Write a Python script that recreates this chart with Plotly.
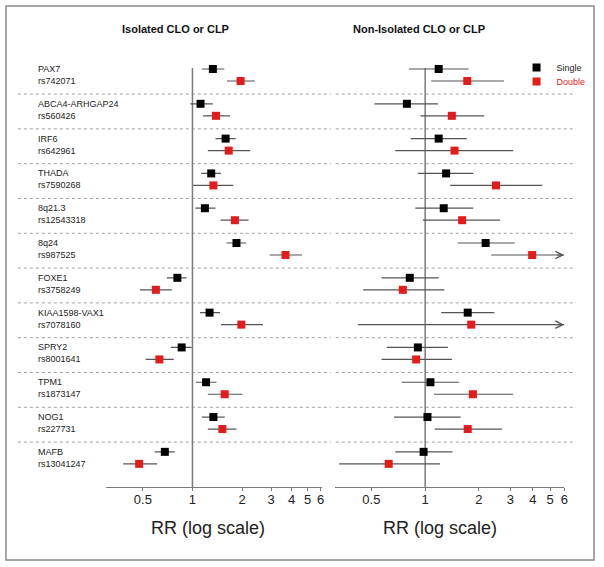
import math
import plotly.graph_objects as go

# ---------------- data ----------------
genes = ["PAX7", "ABCA4-ARHGAP24", "IRF6", "THADA", "8q21.3", "8q24", "FOXE1",
         "KIAA1598-VAX1", "SPRY2", "TPM1", "NOG1", "MAFB"]
snps = ["rs742071", "rs560426", "rs642961", "rs7590268", "rs12543318", "rs987525",
        "rs3758249", "rs7078160", "rs8001641", "rs1873147", "rs227731", "rs13041247"]

iso_single_rr = [1.33, 1.12, 1.59, 1.30, 1.19, 1.85, 0.81, 1.27, 0.86, 1.21, 1.34, 0.68]
iso_single_lo = [1.14, 0.97, 1.38, 1.13, 1.04, 1.61, 0.70, 1.11, 0.74, 1.05, 1.14, 0.59]
iso_single_hi = [1.56, 1.33, 1.83, 1.49, 1.38, 2.12, 0.92, 1.47, 0.99, 1.40, 1.57, 0.78]

iso_double_rr = [1.96, 1.39, 1.66, 1.34, 1.81, 3.67, 0.60, 1.98, 0.63, 1.57, 1.52, 0.475]
iso_double_lo = [1.62, 1.16, 1.24, 1.01, 1.48, 2.94, 0.48, 1.49, 0.52, 1.24, 1.24, 0.38]
iso_double_hi = [2.39, 1.69, 2.24, 1.77, 2.19, 4.62, 0.75, 2.68, 0.77, 2.01, 1.85, 0.61]

non_single_rr = [1.19, 0.79, 1.19, 1.31, 1.27, 2.18, 0.82, 1.73, 0.91, 1.07, 1.03, 0.98]
non_single_lo = [0.81, 0.52, 0.83, 0.91, 0.88, 1.52, 0.57, 1.23, 0.61, 0.74, 0.67, 0.68]
non_single_hi = [1.75, 1.18, 1.71, 1.86, 1.86, 3.17, 1.19, 2.44, 1.34, 1.55, 1.58, 1.42]

non_double_rr = [1.72, 1.41, 1.46, 2.49, 1.61, 3.97, 0.75, 1.81, 0.89, 1.85, 1.73, 0.625]
non_double_lo = [1.08, 0.94, 0.68, 1.38, 0.97, 2.34, 0.45, 0.42, 0.57, 1.12, 1.13, 0.33]
non_double_hi = [2.76, 2.14, 3.11, 4.52, 2.62, 7.50, 1.28, 7.50, 1.41, 3.11, 2.69, 1.21]

tick_vals = [0.5, 1, 2, 3, 4, 5, 6]
tick_text = ["0.5", "1", "2", "3", "4", "5", "6"]
panel_titles = ["Isolated CLO or CLP", "Non-Isolated CLO or CLP"]
x_title = "RR (log scale)"

# ---------------- styling ----------------
W, H = 604, 567
FONT = "Arial, Liberation Sans, sans-serif"
BLACK = "#000000"
RED = "#e31b1b"
CI_COLOR = "#555555"
AX_COLOR = "#7a7a7a"
LEFT_RANGE = (0.30, 6.1)
RIGHT_RANGE = (0.312, 6.0)
DOUBLE_OFFSET = 0.345
Y_RANGE = (12.01, -0.833)

def px(x):
    return x / W

def py(y):
    return 1 - y / H

rows = list(range(len(genes)))
rows_d = [r + DOUBLE_OFFSET for r in rows]

fig = go.Figure()

def ci_trace(lo, hi, ys, xaxis, xmax):
    xs, yy = [], []
    for a, b, y in zip(lo, hi, ys):
        xs += [a, min(b, xmax), None]
        yy += [y, y, None]
    return go.Scatter(x=xs, y=yy, mode="lines", xaxis=xaxis, yaxis="y",
                      line=dict(color=CI_COLOR, width=1.2), hoverinfo="skip",
                      showlegend=False, cliponaxis=False)

def pt_trace(rr, ys, xaxis, color, name, show, legend="legend"):
    return go.Scatter(x=rr, y=ys, mode="markers", xaxis=xaxis, yaxis="y",
                      marker=dict(symbol="square", size=8, color=color),
                      name=name, showlegend=show, legend=legend, cliponaxis=False)

# left panel
fig.add_trace(ci_trace(iso_single_lo, iso_single_hi, rows, "x", LEFT_RANGE[1]))
fig.add_trace(ci_trace(iso_double_lo, iso_double_hi, rows_d, "x", LEFT_RANGE[1]))
fig.add_trace(pt_trace(iso_single_rr, rows, "x", BLACK, "Single", False))
fig.add_trace(pt_trace(iso_double_rr, rows_d, "x", RED, "Double", False))
# right panel
fig.add_trace(ci_trace(non_single_lo, non_single_hi, rows, "x2", RIGHT_RANGE[1]))
fig.add_trace(ci_trace(non_double_lo, non_double_hi, rows_d, "x2", RIGHT_RANGE[1]))
fig.add_trace(pt_trace(non_single_rr, rows, "x2", BLACK, "Single", True, "legend"))
fig.add_trace(pt_trace(non_double_rr, rows_d, "x2", RED,
                       "<span style='color:%s'>Double</span>" % RED, True, "legend2"))

shapes = []
annotations = []

# arrows for CIs beyond axis
for series_hi, ys in ((non_double_hi, rows_d), (non_single_hi, rows)):
    for b, y in zip(series_hi, ys):
        if b > RIGHT_RANGE[1]:
            annotations.append(dict(
                x=math.log10(RIGHT_RANGE[1]), y=y, xref="x2", yref="y",
                ax=math.log10(RIGHT_RANGE[1]) - 0.05, ay=y, axref="x2", ayref="y",
                showarrow=True, arrowhead=5, arrowsize=1.3, arrowwidth=1.1,
                arrowcolor=CI_COLOR, text=""))

# reference lines at RR = 1
for xr in ("x", "x2"):
    shapes.append(dict(type="line", xref=xr, yref="y", x0=1, x1=1,
                       y0=-0.03, y1=Y_RANGE[0],
                       line=dict(color=AX_COLOR, width=1.5), layer="below"))

# dotted separators
for r in rows[:-1]:
    ysep = r + 0.72
    shapes.append(dict(type="line", xref="paper", yref="y", x0=px(18), x1=px(333),
                       y0=ysep, y1=ysep, line=dict(color="#a0a0a0", width=1, dash="dot"),
                       layer="below"))
    shapes.append(dict(type="line", xref="paper", yref="y", x0=px(338), x1=px(580),
                       y0=ysep, y1=ysep, line=dict(color="#a0a0a0", width=1, dash="dot"),
                       layer="below"))

# frame
shapes.append(dict(type="rect", xref="paper", yref="paper", x0=px(6), x1=px(598),
                   y0=py(560), y1=py(6), line=dict(color="#8a8a8a", width=1.5)))

# gene / snp labels
for r, g, s in zip(rows, genes, snps):
    annotations.append(dict(x=px(36), y=r, xref="paper", yref="y", text=g,
                            showarrow=False, xanchor="left", yanchor="middle",
                            font=dict(family=FONT, size=9, color="#222222")))
    annotations.append(dict(x=px(36), y=r + DOUBLE_OFFSET, xref="paper", yref="y", text=s,
                            showarrow=False, xanchor="left", yanchor="middle",
                            font=dict(family=FONT, size=9, color="#222222")))

# panel titles
for xc, t in ((177, panel_titles[0]), (422, panel_titles[1])):
    annotations.append(dict(x=px(xc), y=py(29), xref="paper", yref="paper",
                            text="<b>%s</b>" % t, showarrow=False,
                            xanchor="center", yanchor="middle",
                            font=dict(family=FONT, size=11, color="#111111")))

# x axis titles
for xc in (209, 443):
    annotations.append(dict(x=px(xc), y=py(528), xref="paper", yref="paper",
                            text=x_title, showarrow=False,
                            xanchor="center", yanchor="middle",
                            font=dict(family=FONT, size=18, color="#222222")))

axis_common = dict(type="log", tickvals=tick_vals, ticktext=tick_text,
                   showgrid=False, zeroline=False, showline=True,
                   linecolor=AX_COLOR, linewidth=1, ticks="outside", ticklen=3,
                   tickcolor=AX_COLOR, tickfont=dict(family=FONT, size=13, color="#222222"),
                   ticklabelstandoff=-3, anchor="y", fixedrange=True)

legend_common = dict(xanchor="left", yanchor="top",
                     font=dict(family=FONT, size=9, color="#222222"),
                     bgcolor="rgba(0,0,0,0)")

fig.update_layout(
    width=W, height=H,
    margin=dict(l=0, r=0, t=0, b=0),
    paper_bgcolor="white", plot_bgcolor="white",
    font=dict(family=FONT),
    xaxis=dict(domain=[px(107), px(324)],
               range=[math.log10(LEFT_RANGE[0]), math.log10(LEFT_RANGE[1])], **axis_common),
    xaxis2=dict(domain=[px(337), px(568)],
                range=[math.log10(RIGHT_RANGE[0]), math.log10(RIGHT_RANGE[1])], **axis_common),
    yaxis=dict(domain=[py(487), py(40)], range=list(Y_RANGE), visible=False,
               fixedrange=True),
    legend=dict(x=px(520), y=py(53), **legend_common),
    legend2=dict(x=px(520), y=py(67), **legend_common),
    shapes=shapes,
    annotations=annotations,
    showlegend=True,
)

fig.write_html("out.html", config={"displayModeBar": False},
               post_script="document.body.style.margin='0px';")
